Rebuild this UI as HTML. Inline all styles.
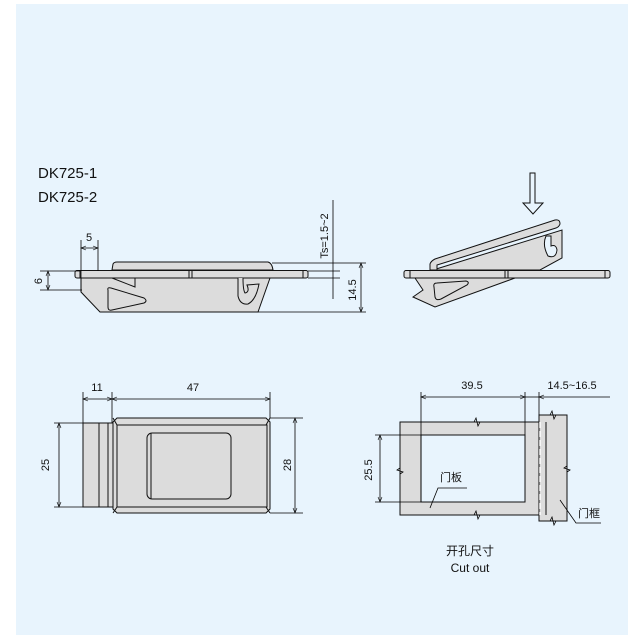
<!DOCTYPE html>
<html><head><meta charset="utf-8"><style>
html,body{margin:0;padding:0;background:#fff;}
svg{display:block;}
text{font-family:"Liberation Sans","Noto Sans CJK SC",sans-serif;fill:#111;}
</style></head><body>
<svg width="638" height="635" viewBox="0 0 638 635" xmlns="http://www.w3.org/2000/svg">
<defs>
<marker id="a" viewBox="0 0 10 10" refX="10" refY="5" markerWidth="7" markerHeight="5" orient="auto-start-reverse" markerUnits="userSpaceOnUse"><path d="M0,1 L10,5 L0,9" fill="none" stroke="#000" stroke-width="1.2"/></marker>
</defs>
<rect x="16" y="4" width="612" height="631" fill="#e8f4fd"/>
<text x="38" y="178" font-size="15">DK725-1</text>
<text x="38" y="202" font-size="15">DK725-2</text>

<g stroke="#111" stroke-width="1" fill="#dcdcdc">
<path d="M112,270 L113,264 Q114,262 117,262 L268,262 Q272,263 273,270 Z"/>
<path d="M81,278 L81,292 L100,312 L258,312 L270,278 Z"/>
<rect x="75" y="270.5" width="233" height="7.5" rx="2"/>
<line x1="80" y1="270.5" x2="80" y2="278"/><line x1="303" y1="270.5" x2="303" y2="278"/>
<line x1="189" y1="270.5" x2="189" y2="278"/><line x1="192" y1="270.5" x2="192" y2="278"/>
<path d="M112,278 L135,287 L135,278" fill="none"/>
<path d="M108,290 Q107,287 111,288 L144,298 Q148,301 144,303 L112,310 Q108,311 108,307 Z"/>
<path d="M238,278 L238,296 Q240,305 248,304 Q256,300 259,284 L247,285 Q250,292 245,293 Q243,290 243,278" fill="#dcdcdc"/>
</g>
<g stroke="#000" stroke-width="0.8" fill="none">
<line x1="81" y1="240" x2="81" y2="292"/><line x1="98" y1="240" x2="98" y2="271"/>
<line x1="81" y1="248" x2="98" y2="248" marker-start="url(#a)" marker-end="url(#a)"/>
<line x1="40" y1="271" x2="80" y2="271"/><line x1="40" y1="290" x2="82" y2="290"/>
<line x1="48" y1="271" x2="48" y2="290" marker-start="url(#a)" marker-end="url(#a)"/>
<line x1="333" y1="200" x2="333" y2="299"/>
<line x1="308" y1="271" x2="340" y2="271"/><line x1="308" y1="278" x2="340" y2="278"/>
<line x1="272" y1="263" x2="366" y2="263"/><line x1="258" y1="312" x2="366" y2="312"/>
<line x1="361" y1="263" x2="361" y2="312" marker-start="url(#a)" marker-end="url(#a)"/>
</g>
<text x="89" y="241" font-size="11" text-anchor="middle">5</text>
<text transform="translate(42,281) rotate(-90)" font-size="11" text-anchor="middle">6</text>
<text transform="translate(328,236) rotate(-90)" font-size="11" text-anchor="middle">Ts=1.5~2</text>
<text transform="translate(356,290) rotate(-90)" font-size="11" text-anchor="middle">14.5</text>

<g stroke="#111" stroke-width="1" fill="#dcdcdc">
<path d="M530,173 L535,173 L535,203 L543,203 L533,214 L523,203 L530,203 Z" fill="#e8f4fd"/>
<path d="M433,270 L562,230 L562,258 L540,270 Z"/>
<path d="M430,270 L430,264 Q431,261 435,259 L555,220 Q560,219 560,224 Q559,227 556,228 L437,265 L437,270 Z"/>
<path d="M415,278 L423,290 L413,297 L435,307 L515,278 Z"/>
<rect x="404" y="270.5" width="206" height="7.5" rx="2"/>
<line x1="410" y1="270.5" x2="410" y2="278"/><line x1="605" y1="270.5" x2="605" y2="278"/>
<line x1="505" y1="270.5" x2="505" y2="278"/><line x1="508" y1="270.5" x2="508" y2="278"/>
<path d="M434,287 Q433,283 437,283 L466,281 Q470,282 467,285 L441,299 Q436,301 435,297 Z"/>
<path d="M546,236 Q542,245 548,256 Q556,259 557,250 Q556,244 551,246 L551,236 Z" fill="#e8f4fd"/>
</g>

<g stroke="#111" stroke-width="1" fill="#dcdcdc">
<rect x="83" y="423" width="30" height="84"/>
<line x1="99" y1="423" x2="99" y2="507"/><line x1="108" y1="423" x2="108" y2="507"/>
<path d="M117,418 L266,418 L270,422 L270,509 L266,513 L117,513 L113,509 L113,422 Z"/>
<rect x="117" y="425" width="150" height="82"/>
<line x1="113" y1="418" x2="117" y2="425"/><line x1="270" y1="418" x2="266" y2="425"/>
<line x1="113" y1="513" x2="117" y2="507"/><line x1="270" y1="513" x2="266" y2="507"/>
<rect x="147" y="433" width="84" height="66" rx="5"/>
<line x1="151" y1="433" x2="151" y2="499"/>
</g>
<g stroke="#000" stroke-width="0.8" fill="none">
<line x1="83" y1="392" x2="83" y2="423"/><line x1="112" y1="392" x2="112" y2="423"/><line x1="270" y1="392" x2="270" y2="418"/>
<line x1="83" y1="399" x2="112" y2="399" marker-start="url(#a)" marker-end="url(#a)"/>
<line x1="112" y1="399" x2="270" y2="399" marker-start="url(#a)" marker-end="url(#a)"/>
<line x1="54" y1="423" x2="83" y2="423"/><line x1="54" y1="507" x2="83" y2="507"/>
<line x1="59" y1="423" x2="59" y2="507" marker-start="url(#a)" marker-end="url(#a)"/>
<line x1="270" y1="418" x2="303" y2="418"/><line x1="270" y1="513" x2="303" y2="513"/>
<line x1="295" y1="418" x2="295" y2="513" marker-start="url(#a)" marker-end="url(#a)"/>
</g>
<text x="97" y="391" font-size="11" text-anchor="middle">11</text>
<text x="193" y="391" font-size="11" text-anchor="middle">47</text>
<text transform="translate(49,465) rotate(-90)" font-size="11" text-anchor="middle">25</text>
<text transform="translate(291,465) rotate(-90)" font-size="11" text-anchor="middle">28</text>

<g stroke="#111" stroke-width="1">
<rect x="400" y="422" width="146" height="93" fill="#dcdcdc"/>
<rect x="421" y="435" width="104" height="67" fill="#e8f4fd"/>
<rect x="539" y="415" width="28" height="106" fill="#dcdcdc"/>
<line x1="546" y1="422" x2="546" y2="515"/>
<line x1="540" y1="422" x2="540" y2="515" stroke="#fff" stroke-width="1.5" stroke-dasharray="6,3"/>
</g>
<g stroke="#000" stroke-width="0.8" fill="none">
<path d="M474,422 l2,-4 l2,8 l2,-4"/><path d="M474,515 l2,-4 l2,8 l2,-4"/>
<path d="M400,468 l-3,2 l6,2 l-3,2"/><path d="M567,466 l-3,2 l6,2 l-3,2"/>
<path d="M550,415 l2,-4 l2,8 l2,-4"/><path d="M550,521 l2,-4 l2,8 l2,-4"/>
<line x1="421" y1="392" x2="421" y2="502"/><line x1="525" y1="392" x2="525" y2="435"/>
<line x1="539" y1="392" x2="539" y2="415"/>
<line x1="421" y1="397" x2="525" y2="397" marker-start="url(#a)" marker-end="url(#a)"/>
<line x1="525" y1="397" x2="539" y2="397"/>
<line x1="539" y1="397" x2="610" y2="397" marker-start="url(#a)"/>
<line x1="375" y1="435" x2="421" y2="435"/><line x1="375" y1="502" x2="421" y2="502"/>
<line x1="380" y1="435" x2="380" y2="502" marker-start="url(#a)" marker-end="url(#a)"/>
<path d="M467,488 L438,488 L430,508"/>
<path d="M601,523 L576,523 L560,500"/>
</g>
<text x="472" y="389" font-size="11" text-anchor="middle">39.5</text>
<text x="572" y="389" font-size="11" text-anchor="middle">14.5~16.5</text>
<text transform="translate(372,470) rotate(-90)" font-size="11" text-anchor="middle">25.5</text>
<text x="440" y="481" font-size="11">门板</text>
<text x="578" y="517" font-size="11">门框</text>
<text x="470" y="555" font-size="12" text-anchor="middle">开孔尺寸</text>
<text x="470" y="572" font-size="12" text-anchor="middle">Cut out</text>
</svg>
</body></html>
